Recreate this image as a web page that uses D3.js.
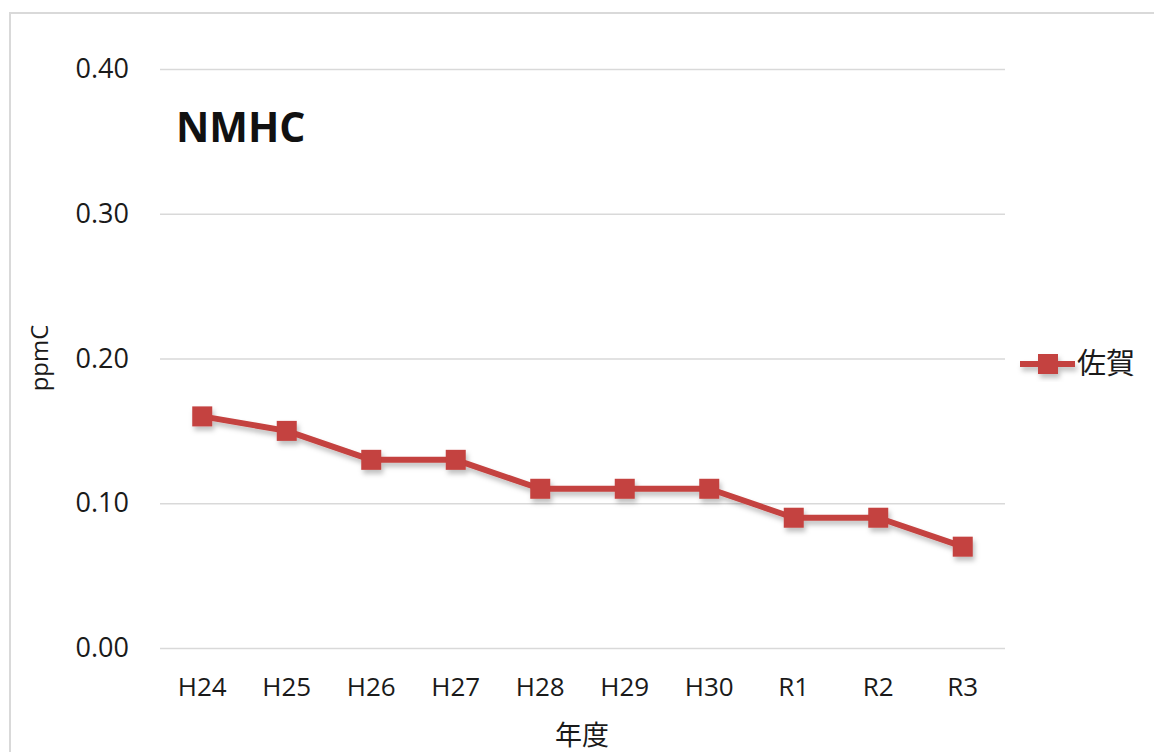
<!DOCTYPE html>
<html><head><meta charset="utf-8">
<script src="https://cdn.jsdelivr.net/npm/d3@7"></script>
<style>body{margin:0;background:#fff}svg{display:block}</style>
</head><body>
<svg id="c" width="1154" height="752"></svg>
<script>
const categories = ["H24","H25","H26","H27","H28","H29","H30","R1","R2","R3"];
const values = [0.16,0.15,0.13,0.13,0.11,0.11,0.11,0.09,0.09,0.07];
const yTicks = [0,0.1,0.2,0.3,0.4];
const seriesName = "佐賀";
const title = "NMHC";
const yLabel = "ppmC";
const xLabel = "年度";

const svg = d3.select("#c");
const color = "#c4423f";
const font = "'Open Sans', 'Noto Sans', sans-serif";
const cjk = "'Noto Sans CJK JP', sans-serif";

const defs = svg.append("defs");
const f = defs.append("filter").attr("id","sh").attr("x","-20%").attr("y","-20%").attr("width","140%").attr("height","160%");
f.append("feDropShadow").attr("dx",2).attr("dy",4).attr("stdDeviation",2.5).attr("flood-color","#000").attr("flood-opacity",0.25);

svg.append("rect").attr("x",10).attr("y",13).attr("width",1200).attr("height",800)
  .attr("fill","none").attr("stroke","#d9d9d9").attr("stroke-width",2);

const x = d3.scaleBand().domain(categories).range([160,1005]);
const y = d3.scaleLinear().domain([0,0.4]).range([648,69]);

const gy = svg.append("g").attr("transform","translate(160,0)")
  .call(d3.axisLeft(y).tickValues(yTicks).tickFormat(d3.format(".2f")).tickSize(-845).tickPadding(31));
gy.select(".domain").remove();
gy.selectAll(".tick line").attr("stroke","#d9d9d9").attr("stroke-width",1.5);
gy.selectAll(".tick text").attr("font-family",font).attr("font-size",27).attr("fill","#1a1a1a");

const gx = svg.append("g").attr("transform","translate(0,648)")
  .call(d3.axisBottom(x).tickSize(0).tickPadding(30));
gx.select(".domain").remove();
gx.selectAll(".tick text").attr("font-family",font).attr("font-size",26).attr("fill","#1a1a1a");

const cx = d => x(d) + x.bandwidth()/2;
const data = categories.map((c,i)=>({c, v: values[i]}));

const g = svg.append("g").attr("filter","url(#sh)");
g.append("path").datum(data)
  .attr("d", d3.line().x(d=>cx(d.c)).y(d=>y(d.v)))
  .attr("fill","none").attr("stroke",color).attr("stroke-width",6).attr("stroke-linejoin","round");
const ms = 20;
g.selectAll("rect.m").data(data).join("rect").attr("class","m")
  .attr("x",d=>cx(d.c)-ms/2).attr("y",d=>y(d.v)-ms/2).attr("width",ms).attr("height",ms).attr("fill",color);

svg.append("text").attr("x",176).attr("y",142).attr("font-family",font).attr("font-weight","bold")
  .attr("font-size",41).attr("fill","#111").text(title);

svg.append("text").attr("transform","translate(48,358) rotate(-90)").attr("text-anchor","middle")
  .attr("font-family",font).attr("font-size",24).attr("fill","#1a1a1a").text(yLabel);

svg.append("text").attr("x",582).attr("y",745).attr("text-anchor","middle")
  .attr("font-family",cjk).attr("font-size",27).attr("fill","#1a1a1a").text(xLabel);

const lg = svg.append("g").attr("filter","url(#sh)");
lg.append("line").attr("x1",1020).attr("x2",1075).attr("y1",364).attr("y2",364)
  .attr("stroke",color).attr("stroke-width",6);
lg.append("rect").attr("x",1038).attr("y",354).attr("width",ms).attr("height",ms).attr("fill",color);
svg.append("text").attr("x",1077).attr("y",374).attr("font-family",cjk).attr("font-size",29)
  .attr("fill","#1a1a1a").text(seriesName);
</script>
</body></html>
